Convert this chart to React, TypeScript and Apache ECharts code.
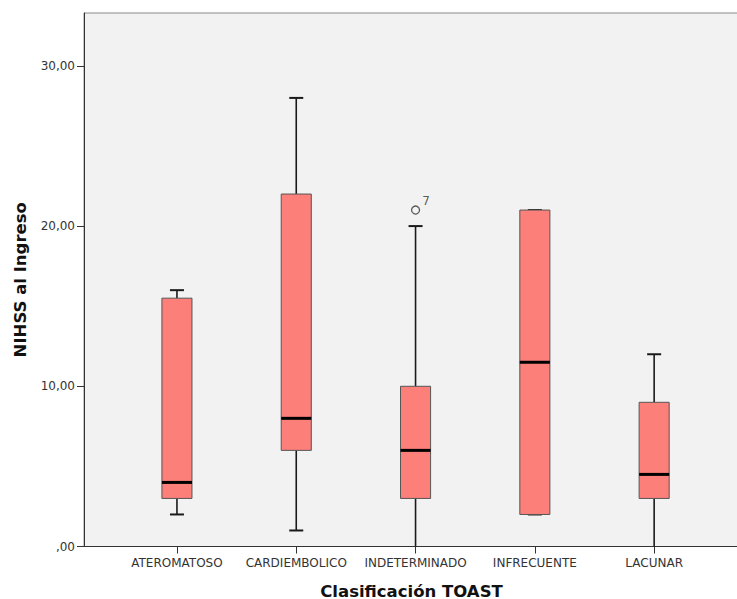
import React, { useEffect, useRef } from "react";
import * as echarts from "echarts";

const categories = ["ATEROMATOSO", "CARDIEMBOLICO", "INDETERMINADO", "INFRECUENTE", "LACUNAR"];
// [min, Q1, median, Q3, max]
const boxStats = [
  [2, 3, 4, 15.5, 16],
  [1, 6, 8, 22, 28],
  [0, 3, 6, 10, 20],
  [2, 2, 11.5, 21, 21],
  [0, 3, 4.5, 9, 12],
];
const outliers = [{ cat: 2, value: 21, label: "7" }];
const yTicks = [0, 10, 20, 30];
const yMax = 33.3;

const FONT = "DejaVu Sans";

export default function App() {
  const ref = useRef<HTMLDivElement>(null);
  useEffect(() => {
    if (!ref.current) return;
    const chart = echarts.init(ref.current, null, { renderer: "svg" });
    const fmt = (v: number) => (v === 0 ? ",00" : v.toFixed(2).replace(".", ","));
    const option: any = {
      animation: false,
      backgroundColor: "#ffffff",
      grid: [
        {
          left: 84,
          right: -2,
          top: 13,
          bottom: 52.5,
          outerBoundsMode: "none",
          containLabel: false,
          show: true,
          backgroundColor: "#f2f2f2",
          borderColor: "#8a8a8a",
          borderWidth: 1,
        },
        { left: 117.3, right: 23.2, top: 13, bottom: 52.5, outerBoundsMode: "none", containLabel: false },
      ],
      xAxis: [
        {
          gridIndex: 0,
          type: "value",
          min: 0,
          max: 1,
          axisLine: { show: true, lineStyle: { color: "#333", width: 1 } },
          axisTick: { show: false },
          axisLabel: { show: false },
          splitLine: { show: false },
          name: "Clasificación TOAST",
          nameLocation: "middle",
          nameGap: 36,
          nameTextStyle: { fontFamily: FONT, fontWeight: "bold", fontSize: 16.5, color: "#111" },
        },
        {
          gridIndex: 1,
          type: "category",
          data: categories,
          axisLine: { show: false },
          axisTick: { show: true, alignWithLabel: true, length: 7, lineStyle: { color: "#333" } },
          axisLabel: { fontFamily: FONT, fontSize: 12, color: "#333", margin: 10, interval: 0 },
          splitLine: { show: false },
        },
      ],
      yAxis: [
        {
          gridIndex: 0,
          type: "value",
          min: 0,
          max: yMax,
          axisLine: { show: true, lineStyle: { color: "#333", width: 1 } },
          axisTick: { show: true, length: 7, customValues: yTicks, lineStyle: { color: "#333" } },
          axisLabel: {
            fontFamily: FONT,
            fontSize: 12,
            color: "#333",
            margin: 9,
            customValues: yTicks,
            formatter: (v: number) => fmt(v),
          },
          splitLine: { show: false },
          name: "NIHSS al Ingreso",
          nameLocation: "middle",
          nameGap: 55,
          nameTextStyle: { fontFamily: FONT, fontWeight: "bold", fontSize: 16.5, color: "#111" },
        },
        { gridIndex: 1, type: "value", min: 0, max: yMax, show: false },
      ],
      series: [
        {
          type: "custom",
          xAxisIndex: 1,
          yAxisIndex: 1,
          data: boxStats.map((s, i) => [i, ...s]),
          encode: { x: 0, y: [1, 2, 3, 4, 5] },
          renderItem: (params: any, api: any) => {
            const x = api.value(0);
            const lo = api.coord([x, api.value(1)]);
            const q1 = api.coord([x, api.value(2)]);
            const med = api.coord([x, api.value(3)]);
            const q3 = api.coord([x, api.value(4)]);
            const hi = api.coord([x, api.value(5)]);
            const band = api.size([1, 0])[0];
            const bw = band * 0.252;
            const half = bw / 2;
            const cap = 7;
            const cx = lo[0];
            const lineStyle = { stroke: "#1a1a1a", lineWidth: 1.6 };
            const children: any[] = [
              { type: "line", shape: { x1: cx, y1: lo[1], x2: cx, y2: q1[1] }, style: lineStyle },
              { type: "line", shape: { x1: cx, y1: q3[1], x2: cx, y2: hi[1] }, style: lineStyle },
            ];
            if (api.value(1) > 0) {
              children.push({ type: "line", shape: { x1: cx - cap, y1: lo[1], x2: cx + cap, y2: lo[1] }, style: { stroke: "#1a1a1a", lineWidth: 2 } });
            }
            children.push(
              { type: "line", shape: { x1: cx - cap, y1: hi[1], x2: cx + cap, y2: hi[1] }, style: { stroke: "#1a1a1a", lineWidth: 2 } },
              {
                type: "rect",
                shape: { x: cx - half, y: q3[1], width: bw, height: q1[1] - q3[1] },
                style: { fill: "#fd7f7a", stroke: "#555", lineWidth: 1 },
              },
              { type: "line", shape: { x1: cx - half, y1: med[1], x2: cx + half, y2: med[1] }, style: { stroke: "#000", lineWidth: 3 } }
            );
            return { type: "group", children };
          },
          z: 2,
        },
        {
          type: "scatter",
          xAxisIndex: 1,
          yAxisIndex: 1,
          data: outliers.map((o) => ({ value: [o.cat, o.value], name: o.label })),
          symbol: "circle",
          symbolSize: 8,
          itemStyle: { color: "#f2f2f2", borderColor: "#333", borderWidth: 1.3 },
          label: {
            show: true,
            position: "right",
            distance: 2,
            offset: [0, -9],
            formatter: (p: any) => p.name,
            fontFamily: FONT,
            fontSize: 12,
            color: "#333",
          },
          z: 3,
        },
      ],
    };
    chart.setOption(option);
    return () => chart.dispose();
  }, []);
  return <div ref={ref} style={{ width: 737, height: 599, position: "absolute", left: 0, top: 0 }} />;
}
